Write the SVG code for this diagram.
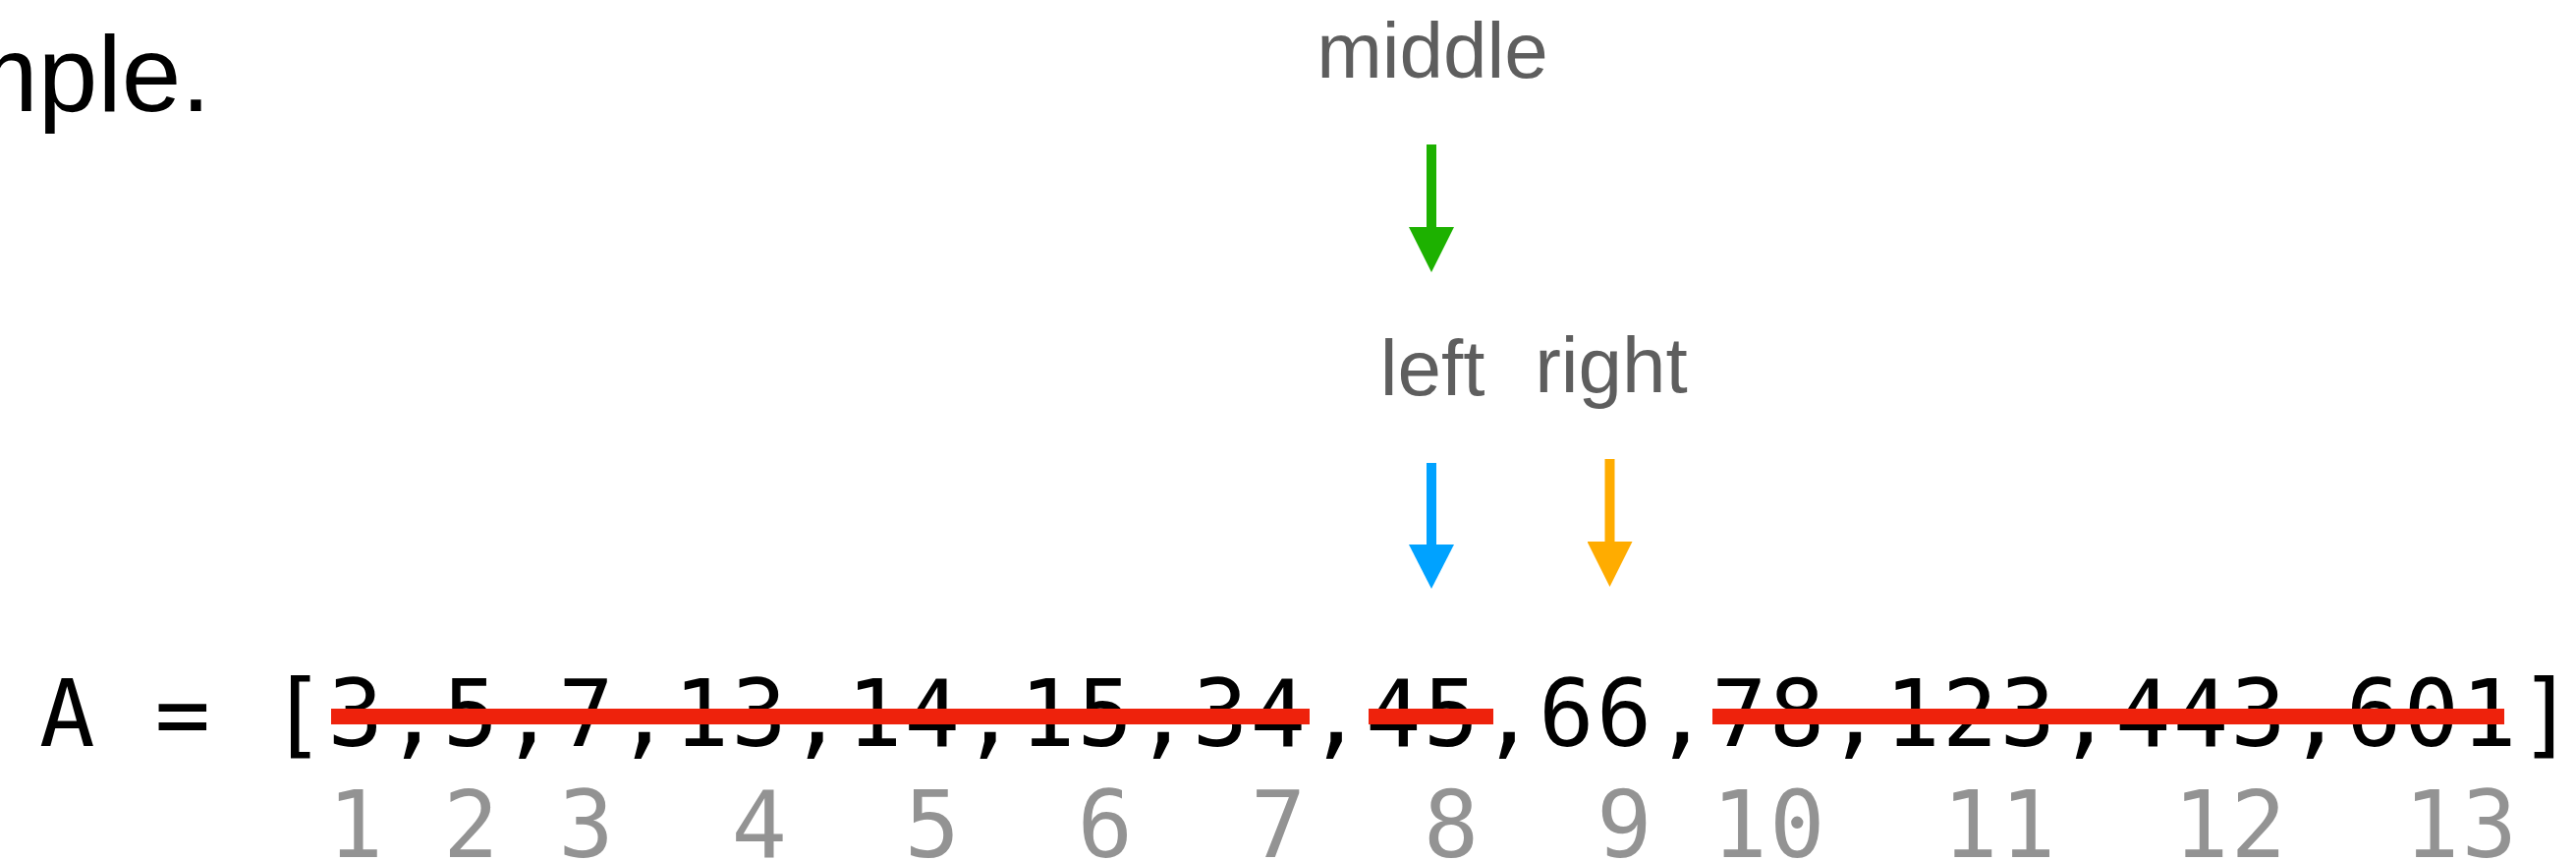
<svg xmlns="http://www.w3.org/2000/svg" width="2622" height="876" viewBox="0 0 2622 876">
<style>
.label{font-family:"Liberation Sans",Arial,Helvetica,sans-serif;font-size:80px;fill:#5e5e5e;text-anchor:middle}
.title{font-family:"Liberation Sans",Arial,Helvetica,sans-serif;font-size:109px;fill:#000}
.arr{font-family:"DejaVu Sans Mono","Liberation Mono",monospace;font-size:94px;letter-spacing:2.1px;fill:#000}
.idx{font-family:"DejaVu Sans Mono","Liberation Mono",monospace;font-size:94px;letter-spacing:2.1px;fill:#939393}
.strike{stroke:#ee220c;stroke-width:16;stroke-linecap:butt}
.shaft{stroke-width:10;fill:none}
</style>
<defs>
<marker id="hg" markerUnits="userSpaceOnUse" markerWidth="46" markerHeight="46" viewBox="0 0 45 45" refX="1" refY="22.5" orient="auto"><path d="M0,0 L45,22.5 L0,45 z" fill="#1db100"/></marker>
<marker id="hb" markerUnits="userSpaceOnUse" markerWidth="46" markerHeight="46" viewBox="0 0 45 45" refX="1" refY="22.5" orient="auto"><path d="M0,0 L44,22.5 L0,45 z" fill="#00a2ff"/></marker>
<marker id="ho" markerUnits="userSpaceOnUse" markerWidth="46" markerHeight="46" viewBox="0 0 45 45" refX="1" refY="22.5" orient="auto"><path d="M0,0 L45,22.5 L0,45 z" fill="#ffac00"/></marker>
</defs>
<rect width="2622" height="876" fill="#fff"/>
<g id="title-fragment"><text class="title" x="-52" y="113">mple.</text></g>
<g id="label-middle"><text class="label" x="1458" y="79">middle</text></g>
<g id="label-left"><text class="label" x="1458" y="402">left</text></g>
<g id="label-right"><text class="label" x="1640" y="399">right</text></g>
<g id="pointers">
<line class="shaft" x1="1457" y1="147" x2="1457" y2="232" stroke="#1db100" marker-end="url(#hg)"/>
<line class="shaft" x1="1457" y1="471" x2="1457" y2="555" stroke="#00a2ff" marker-end="url(#hb)"/>
<line class="shaft" x1="1638.5" y1="467" x2="1638.5" y2="552" stroke="#ffac00" marker-end="url(#ho)"/>
</g>
<g id="array"><text class="arr" x="40" y="759">A = [3,5,7,13,14,15,34,45,66,78,123,443,601]</text></g>
<g id="indices">
<text class="idx" x="333.5" y="872">1</text>
<text class="idx" x="450.9" y="872">2</text>
<text class="idx" x="568.3" y="872">3</text>
<text class="idx" x="744.4" y="872">4</text>
<text class="idx" x="920.5" y="872">5</text>
<text class="idx" x="1096.6" y="872">6</text>
<text class="idx" x="1272.7" y="872">7</text>
<text class="idx" x="1448.8" y="872">8</text>
<text class="idx" x="1624.9" y="872">9</text>
<text class="idx" x="1742.3" y="872">10</text>
<text class="idx" x="1977.1" y="872">11</text>
<text class="idx" x="2211.9" y="872">12</text>
<text class="idx" x="2446.7" y="872">13</text>
</g>
<g id="strikes">
<line class="strike" x1="337" y1="729" x2="1333" y2="729"/>
<line class="strike" x1="1393" y1="729" x2="1520" y2="729"/>
<line class="strike" x1="1743" y1="729" x2="2549" y2="729"/>
</g>
</svg>
